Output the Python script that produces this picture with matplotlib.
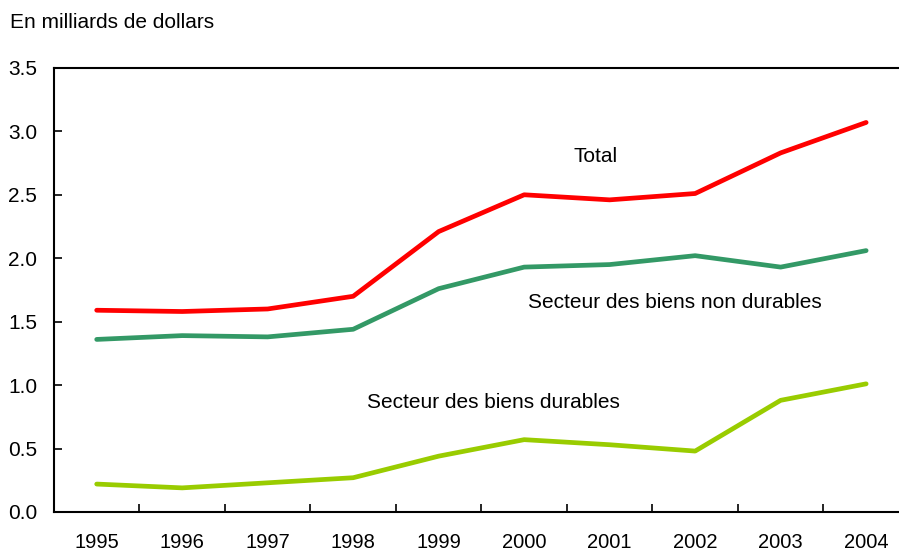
import numpy as np
import matplotlib.pyplot as plt

plt.rcParams['font.family'] = ['Liberation Sans', 'DejaVu Sans']

years = ['1995', '1996', '1997', '1998', '1999', '2000', '2001', '2002', '2003', '2004']
total = [1.59, 1.58, 1.60, 1.70, 2.21, 2.50, 2.46, 2.51, 2.83, 3.07]
non_durables = [1.36, 1.39, 1.38, 1.44, 1.76, 1.93, 1.95, 2.02, 1.93, 2.06]
durables = [0.22, 0.19, 0.23, 0.27, 0.44, 0.57, 0.53, 0.48, 0.88, 1.01]

fig = plt.figure(figsize=(8.99, 5.52), dpi=100)
ax = fig.add_axes([0.060, 0.0725, 0.951, 0.8045])

x = np.arange(len(years))
ax.plot(x, total, color='#FF0000', lw=3.4, solid_capstyle='round')
ax.plot(x, non_durables, color='#339966', lw=3.4, solid_capstyle='round')
ax.plot(x, durables, color='#99CC00', lw=3.4, solid_capstyle='round')

ax.set_xlim(-0.5, len(years) - 0.5)
ax.set_ylim(0, 3.5)
ax.set_yticks(np.arange(0, 3.51, 0.5))
ax.set_yticklabels([f'{v:.1f}' for v in np.arange(0, 3.51, 0.5)])
ax.set_xticks(x)
ax.set_xticklabels(years)
ax.set_xticks(np.arange(0.5, len(years) - 1, 1), minor=True)

ax.tick_params(axis='x', which='major', length=0, pad=15, labelsize=14.5)
ax.tick_params(axis='x', which='minor', direction='in', length=6, width=1.2)
ax.tick_params(axis='y', direction='in', length=6, width=1.2, pad=12, labelsize=15)
for s in ax.spines.values():
    s.set_linewidth(1.5)

ax.text(5.84, 2.80, 'Total', fontsize=15, ha='center', va='center')
ax.text(6.76, 1.65, 'Secteur des biens non durables', fontsize=15, ha='center', va='center')
ax.text(4.64, 0.86, 'Secteur des biens durables', fontsize=15, ha='center', va='center')

fig.text(0.011, 0.96, 'En milliards de dollars', fontsize=15, ha='left', va='center')

fig.savefig('out.png', dpi=100)
